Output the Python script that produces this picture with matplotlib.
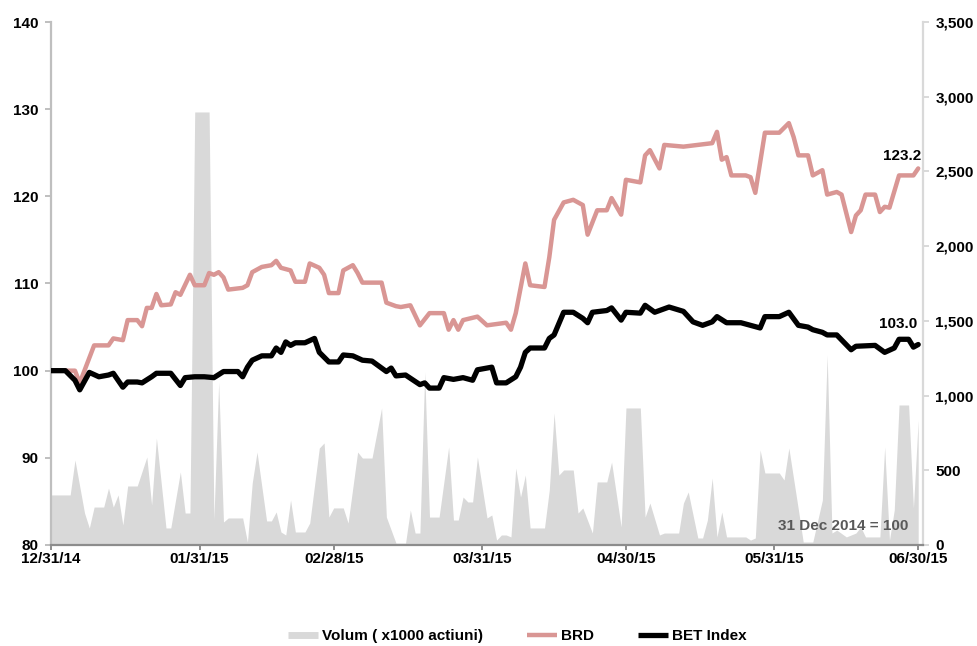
import numpy as np
import pandas as pd
import matplotlib
matplotlib.use("Agg")
import matplotlib.pyplot as plt
import matplotlib.dates as mdates
from matplotlib.lines import Line2D
from matplotlib.ticker import FuncFormatter

plt.rcParams['font.family'] = ['Liberation Sans', 'DejaVu Sans']
plt.rcParams['font.weight'] = 'bold'

# ---------------- data ----------------
brd_dates = ["2014-12-31", "2015-01-05", "2015-01-06", "2015-01-09", "2015-01-12", "2015-01-13",
             "2015-01-15", "2015-01-16", "2015-01-18", "2015-01-19", "2015-01-20", "2015-01-21",
             "2015-01-22", "2015-01-23", "2015-01-25", "2015-01-26", "2015-01-27", "2015-01-29",
             "2015-01-30", "2015-02-01", "2015-02-02", "2015-02-03", "2015-02-04", "2015-02-05",
             "2015-02-06", "2015-02-09", "2015-02-10", "2015-02-11", "2015-02-13", "2015-02-15",
             "2015-02-16", "2015-02-17", "2015-02-19", "2015-02-20", "2015-02-22", "2015-02-23",
             "2015-02-25", "2015-02-26", "2015-02-27", "2015-03-01", "2015-03-02", "2015-03-04",
             "2015-03-05", "2015-03-06", "2015-03-10", "2015-03-11", "2015-03-13", "2015-03-14",
             "2015-03-16", "2015-03-18", "2015-03-20", "2015-03-23", "2015-03-24", "2015-03-25",
             "2015-03-26", "2015-03-27", "2015-03-30", "2015-04-01", "2015-04-05", "2015-04-06",
             "2015-04-07", "2015-04-09", "2015-04-10", "2015-04-13", "2015-04-14", "2015-04-15",
             "2015-04-17", "2015-04-19", "2015-04-21", "2015-04-22", "2015-04-24", "2015-04-26",
             "2015-04-27", "2015-04-29", "2015-04-30", "2015-05-03", "2015-05-04", "2015-05-05",
             "2015-05-07", "2015-05-08", "2015-05-12", "2015-05-18", "2015-05-19", "2015-05-20",
             "2015-05-21", "2015-05-22", "2015-05-25", "2015-05-26", "2015-05-27", "2015-05-29",
             "2015-06-01", "2015-06-03", "2015-06-04", "2015-06-05", "2015-06-07", "2015-06-08",
             "2015-06-10", "2015-06-11", "2015-06-13", "2015-06-14", "2015-06-16", "2015-06-17",
             "2015-06-18", "2015-06-19", "2015-06-21", "2015-06-22", "2015-06-23", "2015-06-24",
             "2015-06-26", "2015-06-29", "2015-06-30"]
brd_values = [100, 100, 98.6, 102.9, 102.9, 103.7,
              103.5, 105.8, 105.8, 105.1, 107.2, 107.2,
              108.8, 107.5, 107.6, 109.0, 108.7, 111.0,
              109.8, 109.8, 111.2, 111.0, 111.3, 110.7,
              109.3, 109.5, 109.8, 111.3, 111.9, 112.1,
              112.6, 111.8, 111.5, 110.2, 110.2, 112.3,
              111.8, 111.0, 108.9, 108.9, 111.5, 112.1,
              111.2, 110.1, 110.1, 107.8, 107.4, 107.3,
              107.5, 105.2, 106.6, 106.6, 104.7, 105.8,
              104.7, 105.8, 106.2, 105.2, 105.5, 104.7,
              106.6, 112.3, 109.8, 109.6, 113.0, 117.3,
              119.3, 119.6, 119.0, 115.6, 118.4, 118.4,
              119.8, 117.9, 121.9, 121.6, 124.7, 125.3,
              123.2, 125.9, 125.7, 126.1, 127.4, 124.2,
              124.5, 122.4, 122.4, 122.2, 120.4, 127.3,
              127.3, 128.4, 126.8, 124.7, 124.7, 122.4,
              123.0, 120.2, 120.5, 120.2, 115.9, 117.8,
              118.4, 120.2, 120.2, 118.2, 118.8, 118.7,
              122.4, 122.4, 123.2]

bet_dates = ["2014-12-31", "2015-01-03", "2015-01-05", "2015-01-06", "2015-01-08", "2015-01-10",
             "2015-01-12", "2015-01-13", "2015-01-15", "2015-01-16", "2015-01-18", "2015-01-19",
             "2015-01-21", "2015-01-22", "2015-01-25", "2015-01-27", "2015-01-28", "2015-01-30",
             "2015-02-01", "2015-02-03", "2015-02-05", "2015-02-08", "2015-02-09", "2015-02-10",
             "2015-02-11", "2015-02-13", "2015-02-15", "2015-02-16", "2015-02-17", "2015-02-18",
             "2015-02-19", "2015-02-20", "2015-02-22", "2015-02-24", "2015-02-25", "2015-02-27",
             "2015-03-01", "2015-03-02", "2015-03-04", "2015-03-06", "2015-03-08", "2015-03-11",
             "2015-03-12", "2015-03-13", "2015-03-15", "2015-03-18", "2015-03-19", "2015-03-20",
             "2015-03-22", "2015-03-23", "2015-03-25", "2015-03-27", "2015-03-29", "2015-03-30",
             "2015-04-02", "2015-04-03", "2015-04-05", "2015-04-07", "2015-04-08", "2015-04-09",
             "2015-04-10", "2015-04-13", "2015-04-14", "2015-04-15", "2015-04-17", "2015-04-19",
             "2015-04-21", "2015-04-22", "2015-04-23", "2015-04-26", "2015-04-27", "2015-04-29",
             "2015-04-30", "2015-05-03", "2015-05-04", "2015-05-06", "2015-05-09", "2015-05-12",
             "2015-05-14", "2015-05-16", "2015-05-18", "2015-05-19", "2015-05-21", "2015-05-24",
             "2015-05-26", "2015-05-28", "2015-05-29", "2015-06-01", "2015-06-03", "2015-06-05",
             "2015-06-07", "2015-06-08", "2015-06-10", "2015-06-11", "2015-06-13", "2015-06-16",
             "2015-06-17", "2015-06-21", "2015-06-23", "2015-06-25", "2015-06-26", "2015-06-28",
             "2015-06-29", "2015-06-30"]
bet_values = [100, 100, 98.9, 97.8, 99.8, 99.3,
              99.5, 99.7, 98.1, 98.7, 98.7, 98.6,
              99.3, 99.7, 99.7, 98.3, 99.2, 99.3,
              99.3, 99.2, 99.9, 99.9, 99.3, 100.4,
              101.2, 101.7, 101.7, 102.6, 102.1, 103.3,
              102.9, 103.2, 103.2, 103.7, 102.1, 101.0,
              101.0, 101.8, 101.7, 101.2, 101.1, 99.9,
              100.3, 99.4, 99.5, 98.4, 98.6, 98.0,
              98.0, 99.2, 99.0, 99.2, 98.9, 100.1,
              100.4, 98.6, 98.6, 99.3, 100.4, 102.1,
              102.6, 102.6, 103.7, 104.1, 106.7, 106.7,
              106.0, 105.5, 106.7, 106.9, 107.2, 105.8,
              106.7, 106.6, 107.5, 106.7, 107.3, 106.8,
              105.6, 105.2, 105.6, 106.2, 105.5, 105.5,
              105.2, 104.9, 106.2, 106.2, 106.7, 105.2,
              105.0, 104.7, 104.4, 104.1, 104.1, 102.4,
              102.8, 102.9, 102.1, 102.6, 103.6, 103.6,
              102.7, 103.0]

vol_dates = ["2014-12-31", "2015-01-04", "2015-01-05", "2015-01-07", "2015-01-08", "2015-01-09",
             "2015-01-11", "2015-01-12", "2015-01-13", "2015-01-14", "2015-01-15", "2015-01-16",
             "2015-01-18", "2015-01-20", "2015-01-21", "2015-01-22", "2015-01-24", "2015-01-25",
             "2015-01-27", "2015-01-28", "2015-01-29", "2015-01-30", "2015-02-02", "2015-02-03",
             "2015-02-04", "2015-02-05", "2015-02-06", "2015-02-09", "2015-02-10", "2015-02-11",
             "2015-02-12", "2015-02-14", "2015-02-15", "2015-02-16", "2015-02-17", "2015-02-18",
             "2015-02-19", "2015-02-20", "2015-02-22", "2015-02-23", "2015-02-25", "2015-02-26",
             "2015-02-27", "2015-02-28", "2015-03-02", "2015-03-03", "2015-03-05", "2015-03-06",
             "2015-03-08", "2015-03-10", "2015-03-11", "2015-03-13", "2015-03-15", "2015-03-16",
             "2015-03-17", "2015-03-18", "2015-03-19", "2015-03-20", "2015-03-22", "2015-03-24",
             "2015-03-25", "2015-03-26", "2015-03-27", "2015-03-28", "2015-03-29", "2015-03-30",
             "2015-04-01", "2015-04-02", "2015-04-03", "2015-04-04", "2015-04-05", "2015-04-06",
             "2015-04-07", "2015-04-08", "2015-04-09", "2015-04-10", "2015-04-13", "2015-04-14",
             "2015-04-15", "2015-04-16", "2015-04-17", "2015-04-19", "2015-04-20", "2015-04-21",
             "2015-04-23", "2015-04-24", "2015-04-26", "2015-04-27", "2015-04-29", "2015-04-30",
             "2015-05-03", "2015-05-04", "2015-05-05", "2015-05-07", "2015-05-08", "2015-05-11",
             "2015-05-12", "2015-05-13", "2015-05-15", "2015-05-16", "2015-05-17", "2015-05-18",
             "2015-05-19", "2015-05-20", "2015-05-21", "2015-05-25", "2015-05-26", "2015-05-27",
             "2015-05-28", "2015-05-29", "2015-06-01", "2015-06-02", "2015-06-03", "2015-06-05",
             "2015-06-06", "2015-06-08", "2015-06-10", "2015-06-11", "2015-06-12", "2015-06-13",
             "2015-06-15", "2015-06-17", "2015-06-18", "2015-06-19", "2015-06-22", "2015-06-23",
             "2015-06-24", "2015-06-25", "2015-06-26", "2015-06-28", "2015-06-29", "2015-06-30"]
vol_values = [335, 335, 569, 214, 114, 254,
              254, 381, 254, 335, 134, 395,
              395, 589, 268, 716, 114, 114,
              489, 214, 214, 2898, 2898, 170,
              1091, 154, 181, 181, 20, 415,
              622, 161, 161, 221, 87, 67,
              301, 87, 87, 147, 649, 683,
              187, 248, 248, 147, 622, 582,
              582, 917, 187, 13, 13, 234,
              80, 80, 1158, 187, 187, 656,
              167, 167, 321, 288, 288, 589,
              181, 201, 33, 67, 67, 54,
              515, 321, 468, 114, 114, 368,
              883, 468, 502, 502, 214, 248,
              80, 422, 422, 555, 121, 917,
              917, 187, 281, 67, 80, 80,
              281, 355, 47, 47, 167, 448,
              54, 221, 54, 54, 33, 47,
              636, 482, 482, 435, 649, 234,
              20, 20, 301, 1271, 80, 100,
              54, 80, 121, 54, 54, 656,
              33, 234, 937, 937, 248, 836]

x_tick_dates = ["2014-12-31", "2015-01-31", "2015-02-28", "2015-03-31",
                "2015-04-30", "2015-05-31", "2015-06-30"]
left_ticks = [80, 90, 100, 110, 120, 130, 140]
right_ticks = [0, 500, 1000, 1500, 2000, 2500, 3000, 3500]

brd_last_label = "123.2"
bet_last_label = "103.0"
base_note = "31 Dec 2014 = 100"
legend_labels = ["Volum ( x1000 actiuni)", "BRD", "BET Index"]

# ---------------- colours ----------------
c_vol = "#D9D9D9"
c_brd = "#D99694"
c_bet = "#000000"

bd = pd.to_datetime(brd_dates)
btd = pd.to_datetime(bet_dates)
vd = pd.to_datetime(vol_dates)
xt = pd.to_datetime(x_tick_dates)

fig = plt.figure(figsize=(9.78, 6.46), dpi=100)
ax = fig.add_axes([51 / 978, 1 - 545 / 646, (923 - 51) / 978, (545 - 22) / 646])
ax2 = ax.twinx()

# volume area on right axis
ax2.fill_between(vd, 0, vol_values, color=c_vol, linewidth=0, zorder=1)
ax2.set_ylim(0, 3500)
ax2.set_yticks(right_ticks)
ax2.yaxis.set_major_formatter(FuncFormatter(lambda v, p: f"{int(v):,}"))

# lines on left axis
ax.plot(bd, brd_values, color=c_brd, lw=3.2, solid_joinstyle='round',
        solid_capstyle='round', zorder=3)
ax.plot(btd, bet_values, color=c_bet, lw=3.8, solid_joinstyle='round',
        solid_capstyle='round', zorder=4)
ax.set_ylim(80, 140)
ax.set_yticks(left_ticks)
ax.set_zorder(ax2.get_zorder() + 1)
ax.patch.set_visible(False)

x0 = pd.Timestamp("2014-12-31")
x1 = pd.Timestamp("2015-07-01")
ax.set_xlim(x0, x1)
ax.set_xticks(xt)
ax.xaxis.set_major_formatter(mdates.DateFormatter("%m/%d/%y"))

for a in (ax, ax2):
    a.spines['top'].set_visible(False)
ax.spines['left'].set_color('#BFBFBF')
ax.spines['left'].set_linewidth(1.6)
ax.spines['right'].set_visible(False)
ax2.spines['left'].set_visible(False)
ax2.spines['right'].set_color('#D9D9D9')
ax2.spines['right'].set_linewidth(1.6)
ax.spines['bottom'].set_color('#8C8C8C')
ax.spines['bottom'].set_linewidth(1.6)
ax2.spines['bottom'].set_visible(False)

fs = 11
ax.tick_params(axis='y', direction='out', length=4, width=1.4, color='#BFBFBF',
               labelsize=fs, pad=5)
ax.tick_params(axis='x', direction='out', length=3.5, width=1.4, color='#8C8C8C',
               labelsize=fs, pad=1.5)
ax2.tick_params(axis='y', direction='out', length=4, width=1.4, color='#D9D9D9',
                labelsize=fs, pad=5)
for lab in ax.get_xticklabels() + ax.get_yticklabels() + ax2.get_yticklabels():
    lab.set_fontweight('bold')

# annotations
ax.annotate(brd_last_label, xy=(bd[-1], brd_values[-1]), xytext=(3, 5),
            textcoords='offset pixels', ha='right', va='bottom',
            fontsize=fs, fontweight='bold', color='black', zorder=6)
ax.annotate(bet_last_label, xy=(btd[-1], bet_values[-1]), xytext=(-1, 14),
            textcoords='offset pixels', ha='right', va='bottom',
            fontsize=fs, fontweight='bold', color='black', zorder=6)
ax.text(908 / 978, 1 - 526 / 646, base_note, transform=fig.transFigure,
        ha='right', va='center', fontsize=fs, fontweight='bold', color='#595959')

# legend
handles = [Line2D([0], [0], color=c_vol, lw=5, solid_capstyle='butt'),
           Line2D([0], [0], color=c_brd, lw=3.2, solid_capstyle='butt'),
           Line2D([0], [0], color=c_bet, lw=3.8, solid_capstyle='butt')]
leg = fig.legend(handles, legend_labels, loc='center', bbox_to_anchor=(0.529, 1 - 636 / 646),
                 ncol=3, frameon=False, fontsize=fs, handlelength=1.95,
                 handletextpad=0.25, columnspacing=2.9, borderpad=0)
for t in leg.get_texts():
    t.set_fontweight('bold')

fig.savefig("out.png", dpi=100)
